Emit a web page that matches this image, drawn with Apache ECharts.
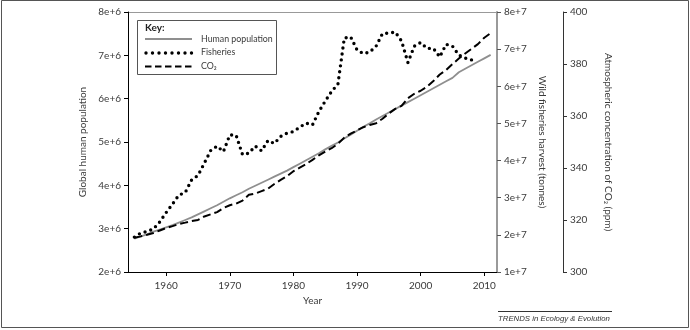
<!DOCTYPE html>
<html>
<head>
<meta charset="utf-8">
<script src="https://cdn.jsdelivr.net/npm/echarts@6/dist/echarts.min.js"></script>
<style>html,body{margin:0;padding:0;background:#fff;}#c{width:690px;height:330px;}</style>
</head>
<body>
<div id="c"></div>
<script>
// ---- data ----
var years = [];
for (var y = 1955; y <= 2011; y++) years.push(y);

// Global human population (units of 1e6 on the axis)
var population = [2.77,2.82,2.87,2.93,2.98,3.03,3.08,3.14,3.20,3.26,3.33,3.40,3.47,3.54,3.62,3.70,3.77,3.84,3.92,3.99,4.06,4.13,4.20,4.27,4.34,4.42,4.50,4.58,4.66,4.74,4.83,4.91,4.99,5.08,5.17,5.26,5.35,5.43,5.52,5.60,5.68,5.76,5.84,5.92,6.00,6.08,6.16,6.24,6.32,6.40,6.48,6.61,6.69,6.77,6.85,6.93,7.01];

// Wild fisheries harvest (millions of tonnes), 1955-2008
var fisheryYears = [];
for (var f = 1955; f <= 2008; f++) fisheryYears.push(f);
var fisheries = [19.4,20.5,20.9,21.6,23.5,26.0,28.3,30.7,31.4,34.8,36.0,39.3,42.7,43.9,42.4,46.9,46.8,41.6,42.0,43.9,42.6,45.4,44.6,46.5,47.4,47.8,49.0,50.1,49.6,53.2,56.0,58.6,60.6,73.0,73.3,69.8,68.8,69.2,70.8,74.2,74.3,74.6,72.2,66.4,70.8,71.8,70.2,70.2,67.9,71.3,70.8,68.4,67.6,67.1];

// Atmospheric CO2 (ppm)
var co2 = [313.2,313.7,314.3,315.0,315.97,316.91,317.64,318.45,318.99,319.62,320.04,321.37,322.18,323.05,324.62,325.68,326.32,327.46,329.68,330.19,331.12,332.03,333.84,335.41,336.84,338.76,340.12,341.48,343.15,344.85,346.35,347.61,349.31,351.69,353.20,354.45,355.70,356.54,357.21,358.96,360.97,362.74,363.88,366.84,368.54,369.71,371.32,373.45,375.98,377.70,379.98,382.09,384.02,385.83,387.64,390.10,391.85];

var yearTicks = [1960,1970,1980,1990,2000,2010];

// ---- build ----
var FONT = 'Lato';
var TXT = '#3a3a3a';
var popData = years.map(function (yr, i) { return [yr, population[i] * 1e6]; });
var fishData = fisheryYears.map(function (yr, i) { return [yr, fisheries[i] * 1e6]; });
var co2Data = years.map(function (yr, i) { return [yr, co2[i]]; });

var popStyle = { color: '#8f8f8f', width: 1.8 };
var fishStyle = { color: '#000', width: 3.4, type: [0, 6], cap: 'round' };
var co2Style = { color: '#000', width: 2, type: [8, 4] };

var chart = echarts.init(document.getElementById('c'), null, { renderer: 'canvas' });
chart.setOption({
  animation: false,
  backgroundColor: '#fff',
  textStyle: { fontFamily: FONT },
  grid: { left: 128, right: 193, top: 12, bottom: 58, containLabel: false },
  xAxis: {
    type: 'value', min: 1954, max: 2012,
    name: 'Year', nameLocation: 'middle', nameGap: 22,
    nameTextStyle: { fontFamily: FONT, fontSize: 10, color: TXT },
    axisLine: { show: true, lineStyle: { color: '#000', width: 1 } },
    axisTick: { show: true, length: 4, inside: false, customValues: yearTicks, lineStyle: { color: '#000' } },
    axisLabel: { customValues: yearTicks, margin: 9, fontFamily: FONT, fontSize: 10, color: TXT,
      formatter: function (v) { return String(v); } },
    splitLine: { show: false }
  },
  yAxis: [
    {
      type: 'value', min: 2e6, max: 8e6, interval: 1e6, position: 'left',
      name: 'Global human population', nameLocation: 'middle', nameGap: 38,
      nameTextStyle: { fontFamily: FONT, fontSize: 10, color: TXT },
      axisLine: { show: true, lineStyle: { color: '#000', width: 1 } },
      axisTick: { show: true, length: 4, lineStyle: { color: '#000' } },
      axisLabel: { margin: 7, fontFamily: FONT, fontSize: 10, color: TXT,
        formatter: function (v) { return (v / 1e6) + 'e+6'; } },
      splitLine: { show: false }
    },
    {
      type: 'value', min: 1e7, max: 8e7, interval: 1e7, position: 'right', offset: 0,
      name: 'Wild fisheries harvest (tonnes)', nameLocation: 'middle', nameGap: 36, nameRotate: -90,
      nameTextStyle: { fontFamily: FONT, fontSize: 10, color: TXT },
      axisLine: { show: true, lineStyle: { color: '#9a9a9a', width: 2 } },
      axisTick: { show: true, length: 4, lineStyle: { color: '#555' } },
      axisLabel: { margin: 7, fontFamily: FONT, fontSize: 10, color: TXT,
        formatter: function (v) { return (v / 1e7) + 'e+7'; } },
      splitLine: { show: false }
    },
    {
      type: 'value', min: 300, max: 400, interval: 20, position: 'right', offset: 66,
      name: 'Atmospheric concentration of CO\u2082 (ppm)', nameLocation: 'middle', nameGap: 40, nameRotate: -90,
      nameTextStyle: { fontFamily: FONT, fontSize: 10, color: TXT },
      axisLine: { show: true, lineStyle: { color: '#333', width: 1 } },
      axisTick: { show: true, length: 4, lineStyle: { color: '#333' } },
      axisLabel: { margin: 7, fontFamily: FONT, fontSize: 10, color: TXT },
      splitLine: { show: false }
    }
  ],
  series: [
    { name: 'Human population', type: 'line', yAxisIndex: 0, data: popData, showSymbol: false, symbol: 'none', lineStyle: popStyle, z: 2 },
    { name: 'Fisheries', type: 'line', yAxisIndex: 1, data: fishData, showSymbol: false, symbol: 'none', lineStyle: fishStyle, z: 3 },
    { name: 'CO\u2082', type: 'line', yAxisIndex: 2, data: co2Data, showSymbol: false, symbol: 'none', lineStyle: co2Style, z: 4 }
  ],
  graphic: [
    { type: 'rect', shape: { x: 1.5, y: 0.5, width: 687, height: 327 }, style: { fill: null, stroke: '#555', lineWidth: 1 }, silent: true },
    { type: 'line', shape: { x1: 128, y1: 12.5, x2: 497, y2: 12.5 }, style: { stroke: '#999', lineWidth: 1 }, silent: true },
    { type: 'rect', shape: { x: 137.5, y: 20.5, width: 139, height: 54 }, style: { fill: '#fff', stroke: '#555', lineWidth: 1 }, z: 10, silent: true },
    { type: 'text', x: 145, y: 28, z: 11, style: { text: 'Key:', font: 'bold 10px Lato', fill: '#222', textVerticalAlign: 'middle' } },
    { type: 'line', z: 11, shape: { x1: 145, y1: 39, x2: 192, y2: 39 }, style: { stroke: popStyle.color, lineWidth: popStyle.width } },
    { type: 'line', z: 11, shape: { x1: 146, y1: 53, x2: 192, y2: 53 }, style: { stroke: '#000', lineWidth: 3.4, lineDash: [0, 6.5], lineCap: 'round' } },
    { type: 'line', z: 11, shape: { x1: 145, y1: 66.5, x2: 192, y2: 66.5 }, style: { stroke: '#000', lineWidth: 2, lineDash: [6.5, 3.5] } },
    { type: 'text', x: 201, y: 39, z: 11, style: { text: 'Human population', font: '8.8px Lato', fill: TXT, textVerticalAlign: 'middle' } },
    { type: 'text', x: 201, y: 52.5, z: 11, style: { text: 'Fisheries', font: '8.8px Lato', fill: TXT, textVerticalAlign: 'middle' } },
    { type: 'text', x: 201, y: 66, z: 11, style: { text: 'CO\u2082', font: '8.8px Lato', fill: TXT, textVerticalAlign: 'middle' } },
    { type: 'line', shape: { x1: 498, y1: 311.5, x2: 612, y2: 311.5 }, style: { stroke: '#333', lineWidth: 1 }, silent: true },
    { type: 'text', x: 498, y: 318.5, style: { text: 'TRENDS in Ecology & Evolution', font: 'italic 7.8px "Liberation Sans"', fill: '#333', textVerticalAlign: 'middle' } }
  ]
});
</script>
</body>
</html>
